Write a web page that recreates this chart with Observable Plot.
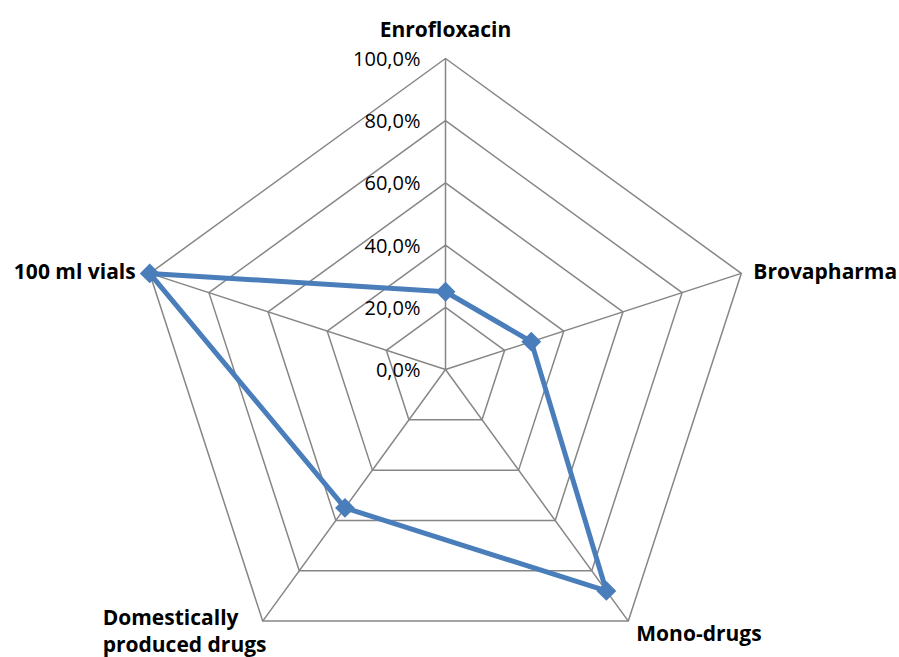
<!DOCTYPE html>
<html><head><meta charset="utf-8">
<script src="https://cdn.jsdelivr.net/npm/d3@7"></script>
<script src="https://cdn.jsdelivr.net/npm/@observablehq/plot@0.6"></script>
<style>body{margin:0;background:#fff}</style>
</head><body><div id="chart"></div>
<script>
const categories = ["Enrofloxacin", "Brovapharma", "Mono-drugs", "Domestically\nproduced drugs", "100 ml vials"];
const values = [0.25, 0.29, 0.88, 0.55, 1.00];
const tickValues = [0, 0.2, 0.4, 0.6, 0.8, 1.0];
const tickLabels = ["0,0%", "20,0%", "40,0%", "60,0%", "80,0%", "100,0%"];

const n = categories.length;
const ang = i => 2 * Math.PI * i / n;
const px = (v, i) => v * Math.sin(ang(i));
const py = (v, i) => v * Math.cos(ang(i));

const rings = [];
tickValues.slice(1).forEach(t => {
  for (let i = 0; i < n; i++) rings.push({t, x: px(t, i), y: py(t, i)});
});
const spokes = categories.map((c, i) => ({x1: 0, y1: 0, x2: px(1, i), y2: py(1, i)}));
const pts = values.map((v, i) => ({x: px(v, i), y: py(v, i)}));
const ticks = tickValues.map((t, k) => ({x: 0, y: t, label: tickLabels[k]}));
const labelOpts = [
  {dx: 0, dy: -30, textAnchor: "middle"},
  {dx: 12, dy: -3, textAnchor: "start"},
  {dx: 8, dy: 11, textAnchor: "start"},
  {dx: -160, dy: 9, textAnchor: "start"},
  {dx: -14, dy: -3, textAnchor: "end"}
];
const labs = categories.map((c, i) => ({x: px(1, i), y: py(1, i), label: c}));

const cx = 445, cy = 369, R = 311;
const chart = Plot.plot({
  width: 899, height: 657, margin: 0,
  style: {fontFamily: "'Open Sans', sans-serif", background: "#fff"},
  x: {domain: [-1, 1], range: [cx - R, cx + R], axis: null},
  y: {domain: [-1, 1], range: [cy + R, cy - R], axis: null},
  marks: [
    Plot.line(rings, {x: "x", y: "y", z: "t", curve: "linear-closed", stroke: "#868686", strokeWidth: 1.5}),
    Plot.link(spokes, {x1: "x1", y1: "y1", x2: "x2", y2: "y2", stroke: "#868686", strokeWidth: 1.5}),
    Plot.text(ticks, {x: "x", y: "y", text: "label", dx: -25, dy: 1, textAnchor: "end", fontSize: 20, fill: "#000"}),
    Plot.line(pts, {x: "x", y: "y", curve: "linear-closed", stroke: "#4a7ebb", strokeWidth: 5}),
    Plot.dot(pts, {x: "x", y: "y", symbol: "diamond2", r: 8, fill: "#4a7ebb", stroke: "#4a7ebb"}),
    ...labs.map((d, i) => Plot.text([d], {x: "x", y: "y", text: "label", fontSize: 21, fontWeight: "bold", fill: "#000", lineHeight: 1.28, ...labelOpts[i]}))
  ]
});
document.getElementById("chart").append(chart);
</script>
</body></html>
